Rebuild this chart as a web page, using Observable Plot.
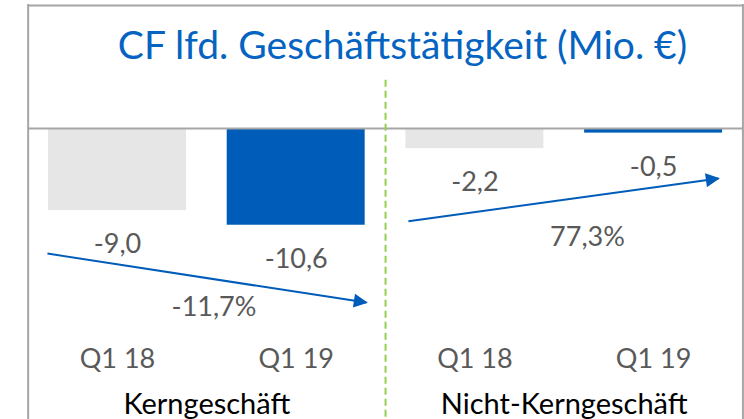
<!DOCTYPE html>
<html>
<head>
<meta charset="utf-8">
<script src="https://cdn.jsdelivr.net/npm/d3@7"></script>
<script src="https://cdn.jsdelivr.net/npm/@observablehq/plot@0.6"></script>
<style>
  html, body { margin: 0; padding: 0; background: #fff; }
  svg { display: block; }
</style>
</head>
<body>
<div id="chart"></div>
<script>
// ---- data ----
const title = "CF lfd. Geschäftstätigkeit (Mio. €)";
const groups = ["Kerngeschäft", "Nicht-Kerngeschäft"];
const quarters = ["Q1 18", "Q1 19", "Q1 18", "Q1 19"];
const groupOf = [0, 0, 1, 1];
const values = [-9.0, -10.6, -2.2, -0.5];
const valueLabels = ["-9,0", "-10,6", "-2,2", "-0,5"];
const changeLabels = ["-11,7%", "77,3%"];
const barColors = ["#E6E6E6", "#005CB9", "#E6E6E6", "#005CB9"];

// ---- layout (data units of the scales) ----
const changePos = [{x: 0.54, y: -19.6}, {x: 2.63, y: -11.95}];
const arrows = [
  {x1: -0.392, y1: -13.71, x2: 1.393, y2: -19.08},
  {x1: 1.628, y1: -10.16, x2: 3.363, y2: -5.48}
];
const frameTop = 13.5;
const dividerTop = 5.3;
const yMin = -31.9, yMax = 14.04;

const bars = values.map((v, i) => ({i, v, q: quarters[i], g: groupOf[i], label: valueLabels[i], color: barColors[i]}));
const groupCenters = groups.map((g, k) => ({name: g, x: d3.mean(bars.filter(b => b.g === k), b => b.i)}));
const changes = changeLabels.map((t, k) => ({t, ...changePos[k]}));

const half = 0.386;
const font = "Lato, 'Open Sans', sans-serif";

const plot = Plot.plot({
  width: 744,
  height: 419,
  margin: 0,
  x: {type: "linear", domain: [-0.6547, 3.5087], axis: null},
  y: {type: "linear", domain: [yMin, yMax], axis: null},
  style: {fontFamily: font, background: "#fff"},
  marks: [
    Plot.rectY(bars, {x1: d => d.i - half, x2: d => d.i + half, y1: 0, y2: "v", fill: "color"}),
    // frame
    Plot.ruleY([frameTop], {x1: -0.5, x2: 3.5, stroke: "#A6A6A6", strokeWidth: 2}),
    Plot.ruleY([0], {x1: -0.5, x2: 3.5, stroke: "#A6A6A6", strokeWidth: 2}),
    Plot.ruleX([-0.5, 3.5], {y1: frameTop + 0.11, y2: yMin, stroke: "#A6A6A6", strokeWidth: 2}),
    // divider
    Plot.ruleX([1.5], {y1: dividerTop, y2: yMin, stroke: "#92D050", strokeWidth: 2, strokeDasharray: "7,4"}),
    // arrows
    Plot.link(arrows, {x1: "x1", y1: "y1", x2: "x2", y2: "y2", stroke: "#005CB9", strokeWidth: 2}),
    // value labels
    Plot.text(bars, {x: "i", y: "v", text: "label", dy: 34, fontSize: 27, fill: "#595959"}),
    // change labels
    Plot.text(changes, {x: "x", y: "y", text: "t", fontSize: 27, fill: "#595959"}),
    // quarter labels
    Plot.text(bars, {x: "i", text: "q", frameAnchor: "bottom", lineAnchor: "middle", dy: -60, fontSize: 27, fill: "#595959"}),
    // group labels
    Plot.text(groupCenters, {x: "x", text: "name", frameAnchor: "bottom", lineAnchor: "middle", dy: -15, fontSize: 29, fill: "#000"}),
    // title
    Plot.text([title], {frameAnchor: "top", lineAnchor: "middle", dx: 30, dy: 46, fontSize: 39, fill: "#0563C1"})
  ]
});

// filled arrowheads
const ns = "http://www.w3.org/2000/svg";
const defs = document.createElementNS(ns, "defs");
const marker = document.createElementNS(ns, "marker");
marker.setAttribute("id", "ahead");
marker.setAttribute("viewBox", "0 0 10 10");
marker.setAttribute("refX", "9");
marker.setAttribute("refY", "5");
marker.setAttribute("markerWidth", "7.5");
marker.setAttribute("markerHeight", "7");
marker.setAttribute("orient", "auto");
marker.setAttribute("markerUnits", "strokeWidth");
const mp = document.createElementNS(ns, "path");
mp.setAttribute("d", "M0,0L10,5L0,10Z");
mp.setAttribute("fill", "#005CB9");
marker.appendChild(mp);
defs.appendChild(marker);
plot.insertBefore(defs, plot.firstChild);
plot.querySelectorAll('g[aria-label="link"] path').forEach(p => p.setAttribute("marker-end", "url(#ahead)"));

document.getElementById("chart").appendChild(plot);
</script>
</body>
</html>
